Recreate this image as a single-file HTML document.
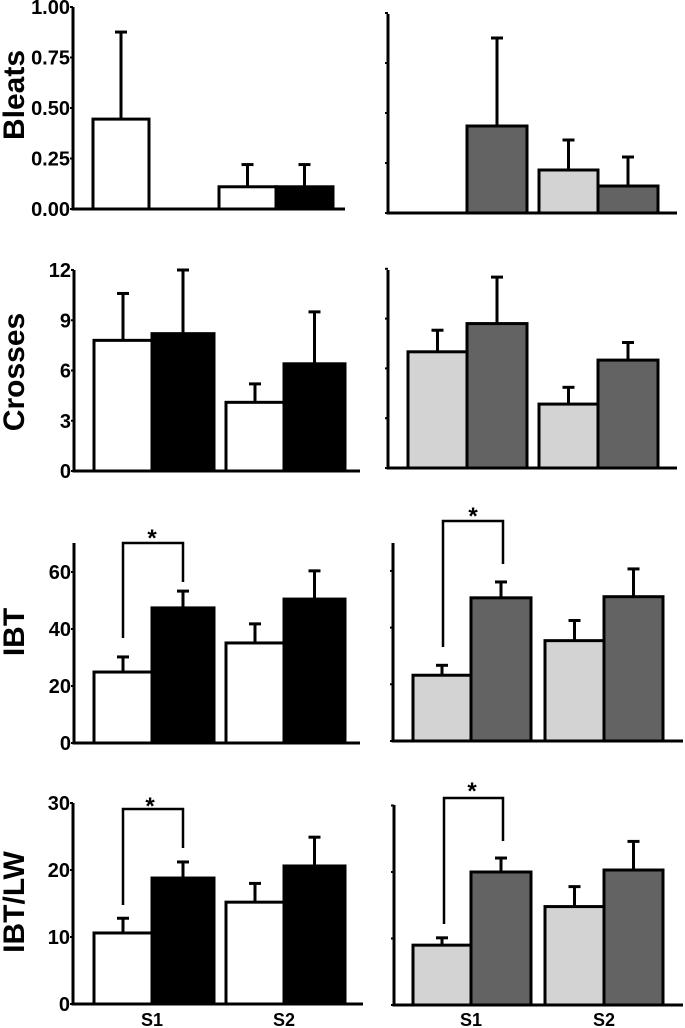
<!DOCTYPE html>
<html><head><meta charset="utf-8"><style>
html,body{margin:0;padding:0;background:#fff;}
svg{display:block;font-family:"Liberation Sans",Arial,sans-serif;}
</style></head><body>
<svg id="chart" width="685" height="1028" viewBox="0 0 685 1028"></svg>
<script>
const categories = ["S1-a","S1-b","S2-a","S2-b"];
const groupLabels = ["S1","S2"];
const bleatsLeftMeans = [0.445, 0, 0.11, 0.11];
const bleatsLeftErr = [0.876, 0, 0.22, 0.22];
const bleatsRightMeans = [0, 0.435, 0.215, 0.135];
const bleatsRightErr = [0, 0.875, 0.365, 0.28];
const crossesLeftMeans = [7.8, 8.2, 4.1, 6.4];
const crossesLeftErr = [10.6, 12.0, 5.2, 9.5];
const crossesRightMeans = [7.0, 8.7, 3.85, 6.5];
const crossesRightErr = [8.3, 11.5, 4.86, 7.56];
const ibtLeftMeans = [24.9, 47.4, 35.1, 50.5];
const ibtLeftErr = [30.2, 53.3, 41.8, 60.4];
const ibtRightMeans = [23.2, 50.5, 35.4, 50.9];
const ibtRightErr = [26.7, 56.1, 42.5, 60.7];
const lwLeftMeans = [10.6, 18.8, 15.2, 20.6];
const lwLeftErr = [12.8, 21.2, 18.0, 24.9];
const lwRightMeans = [9.0, 20.0, 14.8, 20.3];
const lwRightErr = [10.1, 22.1, 17.8, 24.6];
const bleatsTicks = ["0.00","0.25","0.50","0.75","1.00"];
const bleatsTickVals = [0,0.25,0.5,0.75,1];
const crossesTicks = ["0","3","6","9","12"];
const crossesTickVals = [0,3,6,9,12];
const ibtTicks = ["0","20","40","60"];
const ibtTickVals = [0,20,40,60];
const lwTicks = ["0","10","20","30"];
const lwTickVals = [0,10,20,30];

const NS="http://www.w3.org/2000/svg";
const svg=document.getElementById('chart');
function mk(tag,attrs,parent){const e=document.createElementNS(NS,tag);for(const k in attrs)e.setAttribute(k,attrs[k]);(parent||svg).appendChild(e);return e;}

const L1=[93,149,206,219,276,333], L=[94,152,214,226,284,345];
const R1=[408,467,527,539,598,658], R=[413,471,531,545,604,663];

const panels=[
 {name:'bleats-left',means:bleatsLeftMeans,errs:bleatsLeftErr,ax:73,axEnd:345,top:7,y0:209,ppu:202,edges:L1,cols:['#fff','#000'],ticks:bleatsTicks,tv:bleatsTickVals,title:'Bleats',tcy:95},
 {name:'bleats-right',means:bleatsRightMeans,errs:bleatsRightErr,ax:388,axEnd:677,top:14,y0:213,ppu:200,edges:R1,cols:['#d3d3d3','#636363'],tv:bleatsTickVals},
 {name:'crosses-left',means:crossesLeftMeans,errs:crossesLeftErr,ax:74,axEnd:360,top:270,y0:471,ppu:16.75,edges:L,cols:['#fff','#000'],ticks:crossesTicks,tv:crossesTickVals,title:'Crosses',tcy:372},
 {name:'crosses-right',means:crossesRightMeans,errs:crossesRightErr,ax:388,axEnd:677,top:270,y0:468,ppu:16.6,edges:R1,cols:['#d3d3d3','#636363'],tv:crossesTickVals},
 {name:'ibt-left',means:ibtLeftMeans,errs:ibtLeftErr,ax:74,axEnd:360,top:543,y0:743,ppu:2.85,edges:L,cols:['#fff','#000'],ticks:ibtTicks,tv:ibtTickVals,title:'IBT',tcy:632,br:[123,183,543,638,582,152,533]},
 {name:'ibt-right',means:ibtRightMeans,errs:ibtRightErr,ax:393,axEnd:683,top:543,y0:741,ppu:2.835,edges:R,cols:['#d3d3d3','#636363'],tv:ibtTickVals,br:[443,503,521,647,564,473,511]},
 {name:'ibtlw-left',means:lwLeftMeans,errs:lwLeftErr,ax:73,axEnd:363,top:803,y0:1004,ppu:6.7,edges:L,cols:['#fff','#000'],ticks:lwTicks,tv:lwTickVals,title:'IBT/LW',tcy:902,br:[123,183,809,905,848,150,801],xl:true},
 {name:'ibtlw-right',means:lwRightMeans,errs:lwRightErr,ax:394,axEnd:683,top:805,y0:1005,ppu:6.65,edges:R,cols:['#d3d3d3','#636363'],tv:lwTickVals,br:[444,503,798,924,841,472,786],xl:true}
];

panels.forEach(p=>{
 const g=mk('g',{});
 
 
 const y=v=>p.y0-v*p.ppu;
 const xs=[[p.edges[0],p.edges[1]],[p.edges[1],p.edges[2]],[p.edges[3],p.edges[4]],[p.edges[4],p.edges[5]]];
 categories.forEach((c,i)=>{
   const [x0,x1]=xs[i]; const m=p.means[i];
   if(m>0){
     const cx=(x0+x1)/2;
     const el=mk('line',{x1:cx,x2:cx,y1:y(m),y2:y(p.errs[i]),stroke:'#000','stroke-width':3},g);
     
     
     const cap=mk('line',{x1:cx-6,x2:cx+6,y1:y(p.errs[i]),y2:y(p.errs[i]),stroke:'#000','stroke-width':3},g);
     
     
     const r=mk('rect',{x:x0,y:y(m),width:x1-x0,height:m*p.ppu,fill:p.cols[i%2],stroke:'#000','stroke-width':3},g);
     
     
   }
 });
 const ya=mk('line',{x1:p.ax,x2:p.ax,y1:p.top,y2:p.y0+1.5,stroke:'#000','stroke-width':3},g);
 
 
 const xa=mk('line',{x1:p.ax-1.5,x2:p.axEnd,y1:p.y0,y2:p.y0,stroke:'#000','stroke-width':3},g);
 
 
 p.tv.forEach((v,i)=>{
   const t=mk('line',{x1:p.ax-3,x2:p.ax,y1:y(v),y2:y(v),stroke:'#000','stroke-width':2},g);
   
   
   if(p.ticks){
     const tx=mk('text',{x:p.ax-3,y:y(v)+7,'text-anchor':'end','font-size':20,'font-weight':'bold'},g);
     tx.textContent=p.ticks[i];
     
     
   }
 });
 if(p.title){
   const tt=mk('text',{x:0,y:0,transform:`translate(24,${p.tcy}) rotate(-90)`,'text-anchor':'middle','font-size':30,'font-weight':'bold'},g);
   tt.textContent=p.title;
   
   
 }
 if(p.br){
   const b=p.br;
   const pl=mk('polyline',{points:`${b[0]},${b[3]} ${b[0]},${b[2]} ${b[1]},${b[2]} ${b[1]},${b[4]}`,fill:'none',stroke:'#000','stroke-width':2.5},g);
   
   
   const st=mk('text',{x:b[5],y:b[6]+13,'text-anchor':'middle','font-size':24,'font-weight':'bold'},g);
   st.textContent='*';
   
   
 }
 if(p.xl){
   [p.edges[1],p.edges[4]].forEach((x,i)=>{
     const t=mk('text',{x:x,y:1026,'text-anchor':'middle','font-size':18,'font-weight':'bold'},g);
     t.textContent=groupLabels[i];
     
     
   });
 }
});
</script>
</body></html>
